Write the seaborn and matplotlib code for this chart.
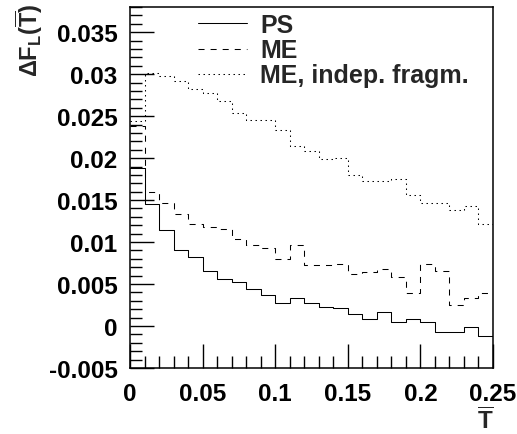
import pandas as pd
import matplotlib
matplotlib.use("Agg")
import matplotlib.pyplot as plt
from matplotlib.ticker import MultipleLocator, FuncFormatter
import seaborn as sns

sns.set_theme(style="white")

plt.rcParams["font.family"] = ["Liberation Sans", "DejaVu Sans"]
plt.rcParams["font.weight"] = "bold"
plt.rcParams["mathtext.fontset"] = "custom"
plt.rcParams["mathtext.rm"] = "Liberation Sans:bold"
plt.rcParams["mathtext.bf"] = "Liberation Sans:bold"
plt.rcParams["mathtext.it"] = "Liberation Sans:bold"

# ==================================================
# DATA (bin lower edges, bin width 0.01)
# ==================================================

t_edges = [0.00, 0.01, 0.02, 0.03, 0.04, 0.05, 0.06, 0.07, 0.08, 0.09,
           0.10, 0.11, 0.12, 0.13, 0.14, 0.15, 0.16, 0.17, 0.18, 0.19,
           0.20, 0.21, 0.22, 0.23, 0.24]
t_max = 0.25

ps = [0.0188, 0.0145, 0.0114, 0.0091, 0.0082, 0.0065, 0.0056, 0.0053,
      0.0044, 0.0037, 0.0027, 0.0033, 0.0027, 0.0023, 0.0021, 0.0014,
      0.0008, 0.0017, 0.0005, 0.0008, 0.0005, -0.0007, -0.0007, -0.0001,
      -0.0012]

me = [0.0238, 0.0160, 0.0147, 0.0134, 0.0122, 0.0118, 0.0116, 0.0104,
      0.0097, 0.0093, 0.0080, 0.0096, 0.0073, 0.0073, 0.0074, 0.0062,
      0.0064, 0.0068, 0.0058, 0.0039, 0.0074, 0.0065, 0.0025, 0.0033,
      0.0039]

me_indep = [0.0244, 0.0301, 0.0298, 0.0292, 0.0282, 0.0277, 0.0268, 0.0254,
            0.0245, 0.0245, 0.0233, 0.0215, 0.0208, 0.0199, 0.0200, 0.0180,
            0.0173, 0.0173, 0.0175, 0.0156, 0.0146, 0.0146, 0.0138, 0.0143,
            0.0121]

series = [
    ("PS", ps, "-"),
    ("ME", me, (0, (5.8, 5.8))),
    ("ME, indep. fragm.", me_indep, (0, (1.4, 3.4))),
]

# ==================================================
# PLOT
# ==================================================

fig = plt.figure(figsize=(5.17, 4.35), dpi=100)
ax = fig.add_axes([130 / 517, 66 / 435, 363 / 517, 361 / 435])

for name, vals, ls in series:
    df = pd.DataFrame({
        "t": t_edges + [t_max, t_max],
        "val": vals + [vals[-1], 0.0],
    })
    sns.lineplot(
        data=df, x="t", y="val", ax=ax,
        estimator=None, sort=False,
        drawstyle="steps-post",
        color="black", linestyle=ls, linewidth=0.75,
        label=name,
    )

ax.set_xlim(0, 0.25)
ax.set_ylim(-0.005, 0.038)

ax.xaxis.set_major_locator(MultipleLocator(0.05))
ax.xaxis.set_minor_locator(MultipleLocator(0.01))
ax.yaxis.set_major_locator(MultipleLocator(0.005))
ax.yaxis.set_minor_locator(MultipleLocator(0.001))
fmt = FuncFormatter(lambda v, p: "%g" % round(v, 4))
ax.xaxis.set_major_formatter(fmt)
ax.yaxis.set_major_formatter(fmt)

ax.tick_params(which="both", direction="in", left=True, bottom=True,
               top=False, right=False, width=1, color="black",
               labelsize=17.5, labelcolor="black")
ax.tick_params(which="major", length=17)
ax.tick_params(which="minor", length=8.5)
ax.tick_params(axis="y", pad=9)
ax.tick_params(axis="x", pad=10)

for s in ax.spines.values():
    s.set_color("black")
    s.set_linewidth(1.1)

ax.set_xlabel("")
ax.set_ylabel("")

fig.text(494 / 517, 1 / 435, r"$\mathbf{\overline{T}}$",
         ha="right", va="bottom", fontsize=17.5)
fig.text(29 / 517, 1 - 4 / 435, r"$\Delta\mathbf{F_L(\overline{T})}$",
         rotation=90, ha="center", va="top", fontsize=17)

ax.legend(loc="upper left", bbox_to_anchor=(198 / 517, 1 - 14 / 435),
          bbox_transform=fig.transFigure, frameon=False,
          fontsize=18, handlelength=1.96, handletextpad=0.52,
          labelspacing=0.05, borderpad=0, borderaxespad=0)

plt.savefig("out.png", dpi=100)
plt.close()
